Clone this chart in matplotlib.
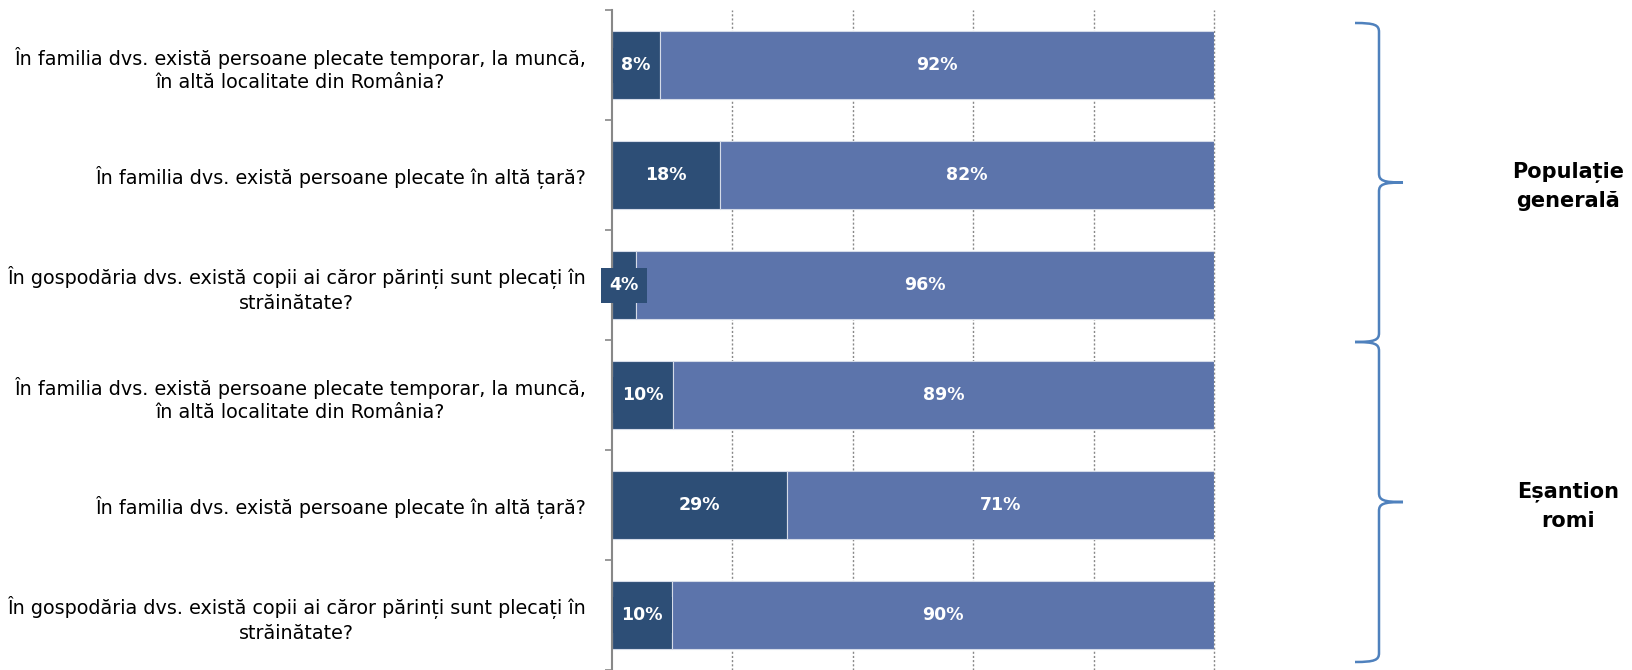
import matplotlib.pyplot as plt
from matplotlib.path import Path
from matplotlib.patches import PathPatch

# Date: întrebări și procente (Da / Nu)
intrebari = [
    "În familia dvs. există persoane plecate temporar, la muncă,\nîn altă localitate din România?",
    "În familia dvs. există persoane plecate în altă țară?",
    "În gospodăria dvs. există copii ai căror părinți sunt plecați în\nstrăinătate?",
    "În familia dvs. există persoane plecate temporar, la muncă,\nîn altă localitate din România?",
    "În familia dvs. există persoane plecate în altă țară?",
    "În gospodăria dvs. există copii ai căror părinți sunt plecați în\nstrăinătate?",
]
da = [8, 18, 4, 10, 29, 10]
nu = [92, 82, 96, 89, 71, 90]
grupuri = ["Populație\ngenerală", "Eșantion\nromi"]

culoare_da = "#2D4E76"
culoare_nu = "#5C74AB"

fig = plt.figure(figsize=(16.33, 6.7), dpi=100)
ax = fig.add_axes([612 / 1633, 0, 602 / 1633, 1 - 10.4 / 670])

y = list(range(len(intrebari)))
total = [a + b for a, b in zip(da, nu)]
da_pct = [a / t * 100 for a, t in zip(da, total)]
nu_pct = [b / t * 100 for b, t in zip(nu, total)]

ax.barh(y, da_pct, height=0.62, color=culoare_da, edgecolor="#d5dbe8", linewidth=0.8, zorder=3)
ax.barh(y, nu_pct, left=da_pct, height=0.62, color=culoare_nu, edgecolor="#d5dbe8", linewidth=0.8, zorder=3)

for i in y:
    ax.text(da_pct[i] / 2, i, f"{da[i]}%", ha="center", va="center", color="white",
            fontsize=12.5, fontweight="bold", zorder=5,
            bbox=dict(boxstyle="square,pad=0.5", facecolor=culoare_da, edgecolor="none"))
    ax.text(da_pct[i] + nu_pct[i] / 2, i, f"{nu[i]}%", ha="center", va="center", color="white",
            fontsize=12.5, fontweight="bold", zorder=5)

ax.set_xlim(0, 100)
ax.set_ylim(5.5, -0.5)
ax.set_xticks([20, 40, 60, 80, 100])
ax.tick_params(axis="x", length=0, labelbottom=False)
ax.grid(axis="x", linestyle=(0, (1.5, 1.5)), color="#888888", linewidth=1, zorder=0)
for g in ax.get_xgridlines():
    g.set_clip_on(False)

ax.set_yticks(y)
ax.set_yticklabels(intrebari, fontsize=13.8, linespacing=1.3)
for t in ax.get_yticklabels():
    t.set_multialignment("center")
ax.tick_params(axis="y", which="major", length=0, pad=19)
ax.set_yticks([i - 0.5 for i in range(len(intrebari) + 1)], minor=True)
ax.tick_params(axis="y", which="minor", length=5, width=1.2, color="#888888")

for s in ["top", "right", "bottom"]:
    ax.spines[s].set_visible(False)
ax.spines["left"].set_color("#888888")
ax.spines["left"].set_linewidth(1.5)
ax.spines["left"].set_zorder(4)

# Acolade și etichete de grup
over = fig.add_axes([0, 0, 1, 1])
over.set_xlim(0, 1633)
over.set_ylim(670, 0)
over.axis("off")


def acolada(top, bot, x0=1355, xv=1379, xt=1403, r=9):
    mid = (top + bot) / 2
    verts = [
        (x0, top), (xv - 4, top), (xv, top + 2), (xv, top + r),
        (xv, mid - r),
        (xv, mid - 2), (xv + 4, mid), (xt, mid),
        (xv + 4, mid), (xv, mid + 2), (xv, mid + r),
        (xv, bot - r),
        (xv, bot - 2), (xv - 4, bot), (x0, bot),
    ]
    codes = [Path.MOVETO, Path.CURVE4, Path.CURVE4, Path.CURVE4,
             Path.LINETO,
             Path.CURVE4, Path.CURVE4, Path.CURVE4,
             Path.CURVE4, Path.CURVE4, Path.CURVE4,
             Path.LINETO,
             Path.CURVE4, Path.CURVE4, Path.CURVE4]
    over.add_patch(PathPatch(Path(verts, codes), facecolor="none", edgecolor="#4F81BD", linewidth=1.8))
    return mid


for (top, bot), nume in zip([(23, 342), (342, 662)], grupuri):
    mid = acolada(top, bot)
    over.text(1568, mid + 4, nume, ha="center", va="center", fontsize=15,
              fontweight="bold", linespacing=1.55)

fig.savefig("out.png", dpi=100)
